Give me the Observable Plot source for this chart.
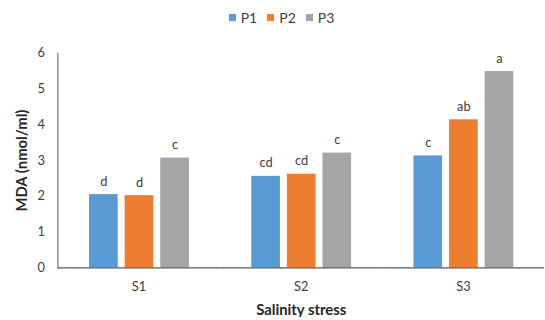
<!DOCTYPE html>
<html>
<head>
<meta charset="utf-8">
<script src="https://cdn.jsdelivr.net/npm/d3@7"></script>
<script src="https://cdn.jsdelivr.net/npm/@observablehq/plot@0.6"></script>
<style>
  body { margin: 0; overflow: hidden; background: #fff; font-family: Lato, "Open Sans", sans-serif; }
  #legend { height: 34px; display: flex; align-items: center; justify-content: center; padding-left: 18px; font-size: 14px; color: #404040; }
  #legend .item { display: flex; align-items: center; margin: 0 5px; }
  #legend .swatch { width: 7px; height: 7px; margin-right: 5px; }
  #chart svg g[aria-label="y-axis label"] text,
  #chart svg g[aria-label="fx-axis label"] text { font-weight: bold; font-size: 15px; fill: #262626; }
</style>
</head>
<body>
<div id="legend"></div>
<div id="chart"></div>
<script>
// Malondialdehyde content per salinity level and population
const stresses = ["S1", "S2", "S3"];
const populations = ["P1", "P2", "P3"];
const mdaP1 = [2.05, 2.56, 3.13];
const mdaP2 = [2.02, 2.62, 4.14];
const mdaP3 = [3.07, 3.21, 5.49];
// Mean-separation letters shown above the bars
const lettersP1 = ["d", "cd", "c"];
const lettersP2 = ["d", "cd", "ab"];
const lettersP3 = ["c", "c", "a"];
const colors = ["#5B9BD5", "#ED7D31", "#A5A5A5"];
const yTicks = [0, 1, 2, 3, 4, 5, 6];

const series = [
  {pop: "P1", values: mdaP1, letters: lettersP1},
  {pop: "P2", values: mdaP2, letters: lettersP2},
  {pop: "P3", values: mdaP3, letters: lettersP3}
];
const data = stresses.flatMap((stress, i) =>
  series.map(s => ({stress, pop: s.pop, mda: s.values[i], letter: s.letters[i]}))
);

// Legend row
const legend = document.getElementById("legend");
populations.forEach((p, i) => {
  const item = document.createElement("span");
  item.className = "item";
  const sw = document.createElement("span");
  sw.className = "swatch";
  sw.style.background = colors[i];
  item.appendChild(sw);
  item.appendChild(document.createTextNode(p));
  legend.appendChild(item);
});

const chart = Plot.plot({
  width: 551,
  height: 286,
  marginLeft: 57,
  marginRight: 0,
  marginTop: 19,
  marginBottom: 50,
  style: {fontFamily: "Lato, 'Open Sans', sans-serif", fontSize: "13px", color: "#404040", background: "#fff"},
  fx: {domain: stresses, paddingInner: 0, paddingOuter: 0},
  x: {domain: populations, paddingInner: 0.205, paddingOuter: 0.856, axis: null},
  y: {domain: [0, 6]},
  color: {domain: populations, range: colors},
  marks: [
    Plot.barY(data, {fx: "stress", x: "pop", y: "mda", fill: "pop"}),
    Plot.text(data, {fx: "stress", x: "pop", y: "mda", text: "letter", lineAnchor: "bottom", dy: -9, fill: "#404040", fontSize: 13}),
    Plot.ruleY([0], {stroke: "#595959", strokeWidth: 1.2}),
    Plot.frame({anchor: "left", stroke: "#595959", fx: () => "S1"}),
    Plot.axisY({ticks: yTicks, tickFormat: d3.format("d"), tickSize: 0, tickPadding: 13, label: "MDA (nmol/ml)", labelAnchor: "center", labelOffset: 42, labelArrow: false}),
    Plot.axisFx({anchor: "bottom", tickSize: 0, tickPadding: 14, label: "Salinity stress", labelAnchor: "center", labelOffset: 48, labelArrow: false})
  ]
});
document.getElementById("chart").appendChild(chart);
</script>
</body>
</html>
